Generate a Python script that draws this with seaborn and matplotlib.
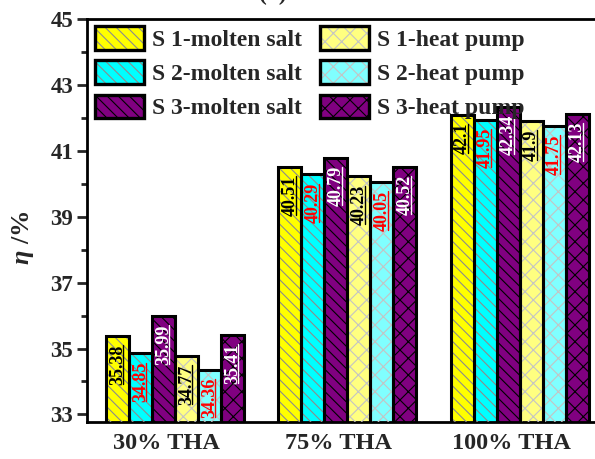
import numpy as np
import pandas as pd
import matplotlib
matplotlib.use("Agg")
import matplotlib.pyplot as plt
import matplotlib.transforms as mtransforms
import seaborn as sns
from matplotlib.patches import Rectangle
from matplotlib.legend_handler import HandlerTuple
from matplotlib.lines import Line2D

# ---- data -------------------------------------------------------------
loads = ["30% THA", "75% THA", "100% THA"]
series = ["S 1-molten salt", "S 2-molten salt", "S 3-molten salt",
          "S 1-heat pump", "S 2-heat pump", "S 3-heat pump"]
s1_molten = [35.38, 40.51, 42.1]
s2_molten = [34.85, 40.29, 41.95]
s3_molten = [35.99, 40.79, 42.34]
s1_pump = [34.77, 40.23, 41.9]
s2_pump = [34.36, 40.05, 41.75]
s3_pump = [35.41, 40.52, 42.13]
y_ticks = [33, 35, 37, 39, 41, 43, 45]

values = [s1_molten, s2_molten, s3_molten, s1_pump, s2_pump, s3_pump]

# ---- styling ------------------------------------------------------------
face_colors = ["#FFFF00", "#00FFFF", "#800080", "#FFFF80", "#80FFFF", "#800080"]
hatch_colors = ["#8c8c8c", "#8c8c8c", "#000000", "#c4c4c4", "#c4c4c4", "#000000"]
hatches = ["\\\\\\", "\\\\\\", "\\\\\\", "xx", "xx", "xx"]
label_colors = ["black", "red", "white", "black", "red", "white"]

sns.set_style("ticks")
plt.rcParams["font.family"] = ["Liberation Serif", "DejaVu Serif"]
plt.rcParams["font.weight"] = "bold"
plt.rcParams["mathtext.fontset"] = "custom"
plt.rcParams["mathtext.it"] = "Liberation Serif:italic:bold"
plt.rcParams["mathtext.rm"] = "Liberation Serif:bold"
plt.rcParams["mathtext.bf"] = "Liberation Serif:bold"
plt.rcParams["hatch.linewidth"] = 0.8

df = pd.DataFrame({
    "load": np.tile(loads, len(series)),
    "series": np.repeat(series, len(loads)),
    "eta": np.concatenate(values),
})

W, H = 595, 459
fig = plt.figure(figsize=(W / 100, H / 100), dpi=100)
ax = fig.add_axes([87 / W, 1 - 422 / H, (W - 87) / W, (422 - 19) / H])

sns.barplot(data=df, x="load", y="eta", hue="series", order=loads,
            hue_order=series, palette=face_colors, saturation=1,
            edgecolor="black", linewidth=0, width=0.8, legend=False,
            errorbar=None, ax=ax)

ax.set_ylim(32.77, 45)
ax.set_xlim(-0.51, 2.435)

# hatch overlay + black outline on every bar, then the value label
text_tf = mtransforms.offset_copy(ax.transData, fig=fig, y=-6, units="points")
labels = []
for i, cont in enumerate(ax.containers):
    for bar, v in zip(cont.patches, values[i]):
        x, w = bar.get_x(), bar.get_width()
        y0 = bar.get_y()
        ax.add_patch(Rectangle((x, y0), w, v - y0, facecolor="none",
                               edgecolor=hatch_colors[i], linewidth=0,
                               hatch=hatches[i], zorder=3))
        ax.add_patch(Rectangle((x, y0), w, v - y0, facecolor="none",
                               edgecolor="black", linewidth=2.2, zorder=4))
        t = ax.text(x + w / 2, v, f"{v:g}", transform=text_tf, rotation=90,
                    ha="center", va="top", color=label_colors[i],
                    fontsize=13, fontweight="bold", zorder=5, clip_on=True)
        labels.append((t, label_colors[i]))

# axes cosmetics
ax.set_yticks(y_ticks)
ax.set_yticks(np.arange(33, 45, 1), minor=True)
ax.set_xticks(np.arange(len(loads)) - 0.05)
ax.set_xticklabels(loads)
ax.tick_params(axis="y", which="major", direction="out", length=7, width=2,
               pad=3, labelsize=16.5)
ax.tick_params(axis="y", which="minor", direction="out", length=4, width=2)
ax.tick_params(axis="x", length=0, pad=8, labelsize=17.5)
for lab in ax.get_xticklabels() + ax.get_yticklabels():
    lab.set_fontweight("bold")
for side in ["left", "bottom", "top"]:
    ax.spines[side].set_linewidth(2)
    ax.spines[side].set_color("black")
ax.spines["right"].set_visible(False)

ax.set_xlabel("")
ax.set_ylabel(r"$\eta$ /%", fontsize=19, fontweight="bold")
ax.yaxis.set_label_coords(-0.100, 0.457)

# legend: fill, hatch and outline stacked in each handle
handles = []
for i in range(len(series)):
    fill = Rectangle((0, 0), 1, 1, facecolor=face_colors[i], edgecolor="none")
    hat = Rectangle((0, 0), 1, 1, facecolor="none", edgecolor=hatch_colors[i],
                    linewidth=0, hatch=hatches[i])
    edge = Rectangle((0, 0), 1, 1, facecolor="none", edgecolor="black",
                     linewidth=2.4)
    handles.append((fill, hat, edge))
ax.legend(handles, series, ncol=2, loc="upper left",
          bbox_to_anchor=(0.016, 0.982), frameon=False,
          prop={"family": "Liberation Serif", "weight": "bold", "size": 17},
          handlelength=2.07, handleheight=1.15, labelspacing=0.4,
          columnspacing=0.76, handletextpad=0.34, borderpad=0,
          borderaxespad=0,
          handler_map={tuple: HandlerTuple(ndivide=1, pad=0)})

fig.text(273 / W, 1 - 5 / H, "(a)", ha="center", va="bottom",
         fontsize=17, fontweight="bold")

# underline the value labels (baseline sits on the right of rotated text)
fig.canvas.draw()
renderer = fig.canvas.get_renderer()
inv = ax.transData.inverted()
for t, col in labels:
    bb = t.get_window_extent(renderer)
    xl = bb.x1 - 2.5
    (x0, ya), (_, yb) = inv.transform([(xl, bb.y0 + 1), (xl, bb.y1 - 1)])
    ax.add_line(Line2D([x0, x0], [ya, yb], color=col, linewidth=1.0,
                       zorder=5))

fig.savefig("out.png", dpi=100)
